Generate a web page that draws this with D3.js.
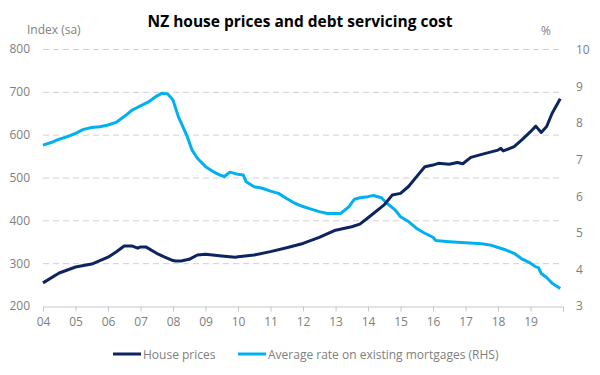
<!DOCTYPE html>
<html>
<head>
<meta charset="utf-8">
<script src="https://cdn.jsdelivr.net/npm/d3@7"></script>
<style>
  html, body { margin: 0; padding: 0; background: #fff; }
  svg { display: block; font-family: "Open Sans", sans-serif; }
</style>
</head>
<body>
<div id="chart"></div>
<script>
// Données (mois approximatifs)
const houseDates = ["2004-01","2004-07","2005-01","2005-07","2006-01","2006-04","2006-07","2006-10","2006-12",
  "2007-01","2007-03","2007-07","2007-10","2008-01","2008-02","2008-04","2008-07","2008-10","2009-01","2009-07",
  "2009-12","2010-01","2010-07","2011-01","2011-07","2012-01","2012-07","2013-01","2013-07","2013-10","2014-01",
  "2014-07","2014-10","2015-01","2015-04","2015-07","2015-10","2016-01","2016-03","2016-07","2016-10","2016-12",
  "2017-03","2017-07","2018-01","2018-02","2018-03","2018-07","2018-10","2019-01","2019-03","2019-05","2019-07",
  "2019-09","2019-12"];
const housePrices = [254,277,291,298,314,326,340,340,335,
  338,338,323,314,306,305,305,309,319,321,317,
  314,315,319,327,336,346,360,377,385,391,406,
  436,459,463,479,502,525,529,533,531,535,532,
  547,554,564,568,562,572,589,607,620,605,619,
  650,684];

const rateDates = ["2004-01","2004-04","2004-07","2004-10","2005-01","2005-04","2005-07","2005-10","2006-01",
  "2006-04","2006-07","2006-10","2007-01","2007-04","2007-07","2007-09","2007-11","2008-01","2008-03","2008-06",
  "2008-08","2008-10","2009-01","2009-04","2009-07","2009-08","2009-10","2010-01","2010-03","2010-04","2010-07",
  "2010-10","2011-01","2011-04","2011-07","2011-10","2012-01","2012-04","2012-07","2012-10","2013-01","2013-03",
  "2013-06","2013-08","2013-10","2014-01","2014-03","2014-06","2014-08","2014-11","2015-01","2015-04","2015-07",
  "2015-10","2016-01","2016-02","2016-07","2017-01","2017-07","2017-10","2018-01","2018-04","2018-07","2018-10",
  "2019-01","2019-03","2019-04","2019-05","2019-07","2019-09","2019-12"];
const rates = [7.40,7.47,7.56,7.63,7.72,7.83,7.88,7.90,7.95,
  8.02,8.18,8.36,8.47,8.58,8.74,8.82,8.80,8.63,8.18,7.68,
  7.27,7.04,6.81,6.67,6.56,6.54,6.66,6.60,6.58,6.40,6.26,
  6.22,6.14,6.08,5.94,5.81,5.72,5.65,5.58,5.53,5.53,5.53,
  5.72,5.92,5.96,5.99,6.02,5.96,5.81,5.63,5.44,5.31,5.12,
  4.99,4.88,4.79,4.76,4.73,4.70,4.67,4.60,4.53,4.44,4.28,
  4.17,4.07,4.05,3.89,3.78,3.62,3.48];

const leftTicks  = [200,300,400,500,600,700,800];
const rightTicks = [3,4,5,6,7,8,9,10];
const yearTicks  = d3.range(2004, 2021);

const largeur = 600, hauteur = 375;
const gauche = 43, droite = 563, haut = 49, bas = 306;
const bleuFonce = "#0c2461", bleuClair = "#00b0f0", gris = "#808080";

const parse = d3.timeParse("%Y-%m");

const svg = d3.select("#chart").append("svg")
    .attr("width", largeur).attr("height", hauteur);

const x = d3.scaleTime()
    .domain([new Date(2004, 0, 1), new Date(2020, 0, 1)])
    .range([gauche, droite]);
const yG = d3.scaleLinear().domain([200, 800]).range([bas, haut]);
const yD = d3.scaleLinear().domain([3, 10]).range([bas, haut + 1]);

// Titre
svg.append("text")
    .attr("x", 300).attr("y", 27)
    .attr("text-anchor", "middle")
    .style("font-weight", "bold").style("font-size", "15.5px").style("fill", "#000")
    .text("NZ house prices and debt servicing cost");

// unités
svg.append("text").attr("x", 27).attr("y", 34)
    .style("font-size", "12px").style("fill", gris).text("Index (sa)");
svg.append("text").attr("x", 541).attr("y", 35)
    .style("font-size", "12px").style("fill", gris).text("%");

// Grille pointillée
svg.append("g").selectAll("line")
    .data(leftTicks.filter(d => d > 200))
    .join("line")
    .attr("x1", gauche).attr("x2", droite)
    .attr("y1", d => yG(d) + 0.5).attr("y2", d => yG(d) + 0.5)
    .attr("stroke", "#d0d0d0").attr("stroke-width", 1)
    .attr("stroke-dasharray", "6,4");

// Axe gauche
const axeG = svg.append("g")
    .attr("transform", `translate(${gauche},0)`)
    .call(d3.axisLeft(yG).tickValues(leftTicks).tickSize(0).tickPadding(13));
axeG.select(".domain").remove();
axeG.selectAll("text").style("font-size", "12px").style("fill", gris)
    .style("font-family", "'Open Sans', sans-serif");

// Axe droit
const axeD = svg.append("g")
    .attr("transform", `translate(${droite},0)`)
    .call(d3.axisRight(yD).tickValues(rightTicks).tickFormat(d3.format("d"))
        .tickSize(0).tickPadding(13));
axeD.select(".domain").remove();
axeD.selectAll("text").style("font-size", "12px").style("fill", gris)
    .style("font-family", "'Open Sans', sans-serif");

// Axe X
const axeX = svg.append("g")
    .attr("transform", `translate(0,${bas + 0.5})`)
    .call(d3.axisBottom(x)
        .tickValues(yearTicks.map(a => new Date(a, 0, 1)))
        .tickSize(5).tickPadding(6)
        .tickFormat(d => d.getFullYear() < 2020 ? d3.timeFormat("%y")(d) : ""));
axeX.select(".domain").attr("stroke", "#c8c8c8");
axeX.selectAll(".tick line").attr("stroke", "#c8c8c8");
axeX.selectAll("text").style("font-size", "12px").style("fill", gris)
    .style("font-family", "'Open Sans', sans-serif");

// Courbes
const ligneMaison = d3.line()
    .x((d, i) => x(parse(houseDates[i])))
    .y(d => yG(d));
const ligneTaux = d3.line()
    .x((d, i) => x(parse(rateDates[i])))
    .y(d => yD(d));

svg.append("path").datum(rates)
    .attr("d", ligneTaux)
    .attr("fill", "none").attr("stroke", bleuClair)
    .attr("stroke-width", 3).attr("stroke-linejoin", "round");

svg.append("path").datum(housePrices)
    .attr("d", ligneMaison)
    .attr("fill", "none").attr("stroke", bleuFonce)
    .attr("stroke-width", 3).attr("stroke-linejoin", "round");

// Légende
const legende = [
    { nom: "House prices", couleur: bleuFonce, x: 113 },
    { nom: "Average rate on existing mortgages (RHS)", couleur: bleuClair, x: 238 }
];
const gL = svg.append("g").selectAll("g").data(legende).join("g")
    .attr("transform", d => `translate(${d.x},354)`);
gL.append("line").attr("x1", 0).attr("x2", 28)
    .attr("stroke", d => d.couleur).attr("stroke-width", 3);
gL.append("text").attr("x", 30).attr("y", 4.5)
    .style("font-size", "12px").style("fill", gris)
    .text(d => d.nom);
</script>
</body>
</html>
